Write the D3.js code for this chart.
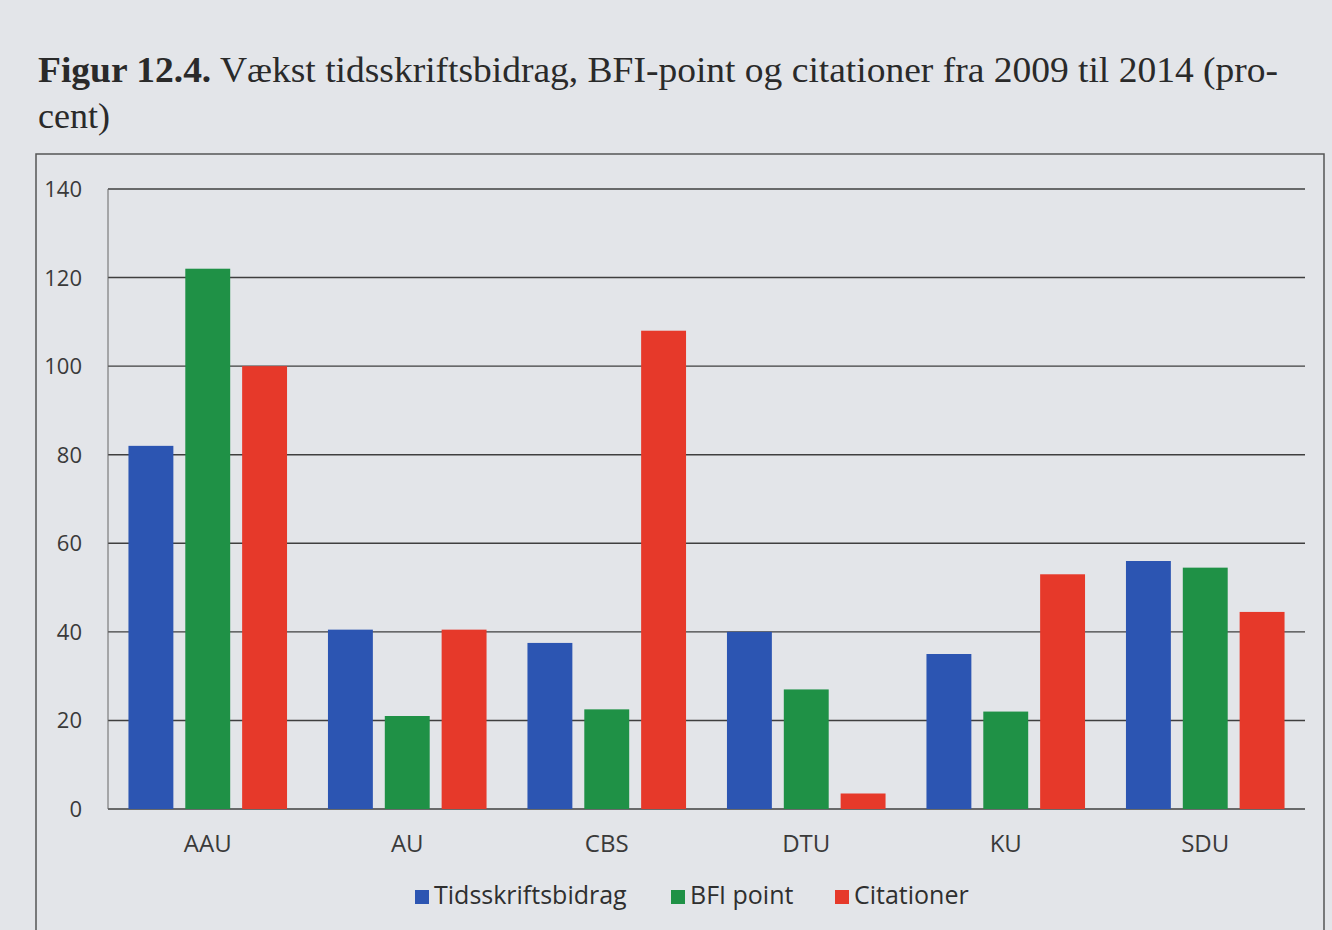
<!DOCTYPE html>
<html>
<head>
<meta charset="utf-8">
<script src="https://cdn.jsdelivr.net/npm/d3@7"></script>
<style>
  body { margin: 0; background: #e3e5e9; }
</style>
</head>
<body>
<div id="chart"></div>
<script>
const categories = ["AAU", "AU", "CBS", "DTU", "KU", "SDU"];
const seriesNames = ["Tidsskriftsbidrag", "BFI point", "Citationer"];
const tidsskrift = [82, 40.5, 37.5, 40, 35, 56];
const bfiPoint = [122, 21, 22.5, 27, 22, 54.5];
const citationer = [100, 40.5, 108, 3.5, 53, 44.5];
const yTicks = [0, 20, 40, 60, 80, 100, 120, 140];

const seriesValues = [tidsskrift, bfiPoint, citationer];
const colors = ["#2c55b2", "#1f9146", "#e6392a"];

const width = 1332,
    height = 930;
const plotLeft = 108,
    plotRight = 1305,
    plotTop = 189,
    plotBottom = 809;

const svg = d3.select("#chart")
    .append("svg")
    .attr("width", width)
    .attr("height", height);

svg.append("rect")
    .attr("width", width)
    .attr("height", height)
    .attr("fill", "#e3e5e9");

// title
const title = svg.append("text")
    .attr("x", 38)
    .attr("y", 82)
    .attr("textLength", 1240)
    .attr("lengthAdjust", "spacingAndGlyphs")
    .style("font-family", "'Liberation Serif', serif")
    .style("font-size", "36px")
    .attr("fill", "#2a2a2a");
title.append("tspan").style("font-weight", "bold").text("Figur 12.4.");
title.append("tspan").text(" Vækst tidsskriftsbidrag, BFI-point og citationer fra 2009 til 2014 (pro-");

svg.append("text")
    .attr("x", 38)
    .attr("y", 128)
    .style("font-family", "'Liberation Serif', serif")
    .style("font-size", "36px")
    .attr("fill", "#2a2a2a")
    .text("cent)");

// frame
svg.append("rect")
    .attr("x", 36)
    .attr("y", 154)
    .attr("width", 1288)
    .attr("height", 820)
    .attr("fill", "none")
    .attr("stroke", "#555")
    .attr("stroke-width", 1.5);

const x = d3.scaleBand()
    .domain(categories)
    .range([plotLeft, plotRight])
    .padding(0);

const x1 = d3.scaleBand()
    .domain(seriesNames)
    .range([0, x.bandwidth()])
    .paddingInner(0.21)
    .paddingOuter(0.36);

const y = d3.scaleLinear()
    .domain([0, 140])
    .range([plotBottom, plotTop]);

// gridlines
svg.append("g")
    .selectAll("line")
    .data(yTicks)
    .join("line")
    .attr("x1", plotLeft)
    .attr("x2", plotRight)
    .attr("y1", d => y(d))
    .attr("y2", d => y(d))
    .attr("stroke", "#3f3f3f")
    .attr("stroke-width", 1.4);

svg.append("line")
    .attr("x1", plotLeft)
    .attr("x2", plotLeft)
    .attr("y1", plotTop)
    .attr("y2", plotBottom)
    .attr("stroke", "#666")
    .attr("stroke-width", 1);

// y tick labels
svg.append("g")
    .selectAll("text")
    .data(yTicks)
    .join("text")
    .attr("x", 82)
    .attr("y", d => y(d) + 8)
    .attr("text-anchor", "end")
    .style("font-family", "'Open Sans', sans-serif")
    .style("font-size", "22px")
    .attr("fill", "#3a3a3a")
    .text(d => d);

// bars
const groups = svg.append("g")
    .selectAll("g")
    .data(categories)
    .join("g")
    .attr("transform", d => `translate(${x(d)},0)`);

groups.selectAll("rect")
    .data((c, i) => seriesNames.map((s, j) => ({ s: s, v: seriesValues[j][i], c: colors[j] })))
    .join("rect")
    .attr("x", d => x1(d.s))
    .attr("width", x1.bandwidth())
    .attr("y", d => y(d.v))
    .attr("height", d => y(0) - y(d.v))
    .attr("fill", d => d.c);

// category labels
svg.append("g")
    .selectAll("text")
    .data(categories)
    .join("text")
    .attr("x", d => x(d) + x.bandwidth() / 2)
    .attr("y", 852)
    .attr("text-anchor", "middle")
    .style("font-family", "'Open Sans', sans-serif")
    .style("font-size", "24px")
    .attr("fill", "#3a3a3a")
    .text(d => d);

// legend
const legendX = [415, 671, 835];
const legend = svg.append("g")
    .selectAll("g")
    .data(seriesNames)
    .join("g")
    .attr("transform", (d, i) => `translate(${legendX[i]},904)`);

legend.append("rect")
    .attr("x", 0)
    .attr("y", -14)
    .attr("width", 14)
    .attr("height", 14)
    .attr("fill", (d, i) => colors[i]);

legend.append("text")
    .attr("x", 19)
    .attr("y", 0)
    .style("font-family", "'Open Sans', sans-serif")
    .style("font-size", "25px")
    .attr("fill", "#2f2f2f")
    .text(d => d);
</script>
</body>
</html>
